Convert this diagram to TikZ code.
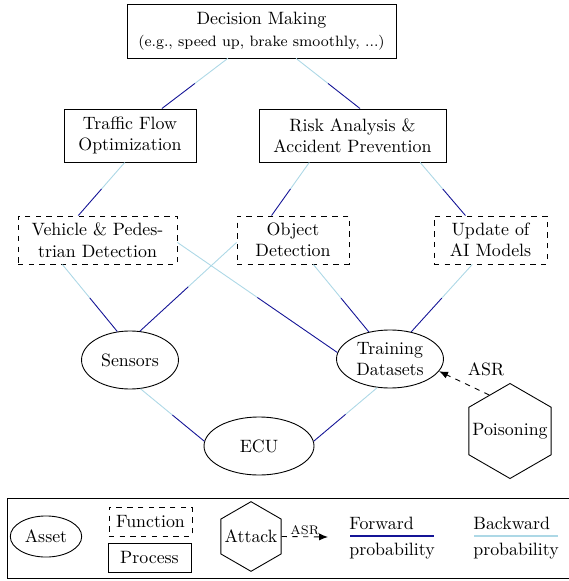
\documentclass[tikz,border=0pt]{standalone}
\usetikzlibrary{shapes.geometric,calc,arrows.meta}
\definecolor{fwdc}{RGB}{20,20,150}
\definecolor{bwdc}{RGB}{173,216,230}
\newcommand\halflink[2]{%
  \draw[bwd] (#1) -- ($(#1)!0.5!(#2)$);
  \draw[fwd] ($(#1)!0.5!(#2)$) -- (#2);}
\begin{document}
\begin{tikzpicture}[x=0.56pt,y=-0.56pt,
  proc/.style={draw,rectangle,align=center,inner sep=2pt,line width=0.5pt},
  func/.style={proc,dashed},
  asset/.style={draw,ellipse,align=center,inner sep=0pt,line width=0.5pt},
  attack/.style={draw,regular polygon,regular polygon sides=6,shape border rotate=30,inner sep=0pt,line width=0.5pt},
  fwd/.style={draw=fwdc,line width=0.5pt},
  bwd/.style={draw=bwdc,line width=0.5pt},
  atk/.style={dashed,-{Latex[length=5pt,width=4pt]},line width=0.5pt},
  lbl/.style={inner sep=0pt}]
\useasboundingbox (0,0) rectangle (568,581);
% nodes
\node[proc,minimum width=150.6pt,minimum height=30.2pt] (dec) at (261.5,31) {Decision Making\\{\fontsize{8.4pt}{10pt}\selectfont (e.g., speed up, brake smoothly, ...)}};
\node[proc,minimum width=73.9pt,minimum height=29.7pt] (tfo) at (130,135.5) {Traffic Flow\\Optimization};
\node[proc,minimum width=104.7pt,minimum height=29.7pt] (risk) at (352.5,135.5) {Risk Analysis \&\\Accident Prevention};
\node[func,minimum width=89pt,minimum height=26.9pt] (vpd) at (97.5,240) {Vehicle \& Pedes-\\trian Detection};
\node[func,minimum width=62.7pt,minimum height=26.9pt] (obj) at (293,240) {Object\\Detection};
\node[func,minimum width=63.3pt,minimum height=26.9pt] (upd) at (490.5,240) {Update of\\AI Models};
\node[asset,minimum width=54.3pt,minimum height=32.5pt] (sen) at (130,360) {Sensors};
\node[asset,minimum width=59.9pt,minimum height=32.5pt] (train) at (390,359) {Training\\Datasets};
\node[asset,minimum width=61.6pt,minimum height=32.5pt] (ecu) at (259,446) {ECU};
\node[attack,minimum size=53.2pt] (poi) at (510,431) {\makebox[0pt]{Poisoning}};
\node[lbl] (asr) at (486,369.5) {ASR};
% edge end points
\coordinate (a1) at ($(dec.south west)!0.375!(dec.south east)$);
\coordinate (b1) at ($(tfo.north west)!0.74!(tfo.north east)$);
\coordinate (a2) at ($(dec.south west)!0.628!(dec.south east)$);
\coordinate (b2) at ($(risk.north west)!0.54!(risk.north east)$);
\coordinate (a3) at ($(tfo.south west)!0.46!(tfo.south east)$);
\coordinate (b3) at ($(vpd.north west)!0.38!(vpd.north east)$);
\coordinate (a4) at ($(risk.south west)!0.27!(risk.south east)$);
\coordinate (b4) at ($(obj.north west)!0.31!(obj.north east)$);
\coordinate (a5) at ($(risk.south west)!0.86!(risk.south east)$);
\coordinate (b5) at ($(upd.north west)!0.28!(upd.north east)$);
\coordinate (a6) at ($(vpd.south west)!0.28!(vpd.south east)$);
\coordinate (b6) at (sen.114);
\coordinate (a7) at ($(vpd.north east)!0.55!(vpd.south east)$);
\coordinate (b7) at (train.173);
\coordinate (a8) at ($(obj.north west)!0.55!(obj.south west)$);
\coordinate (b8) at (sen.71);
\coordinate (a9) at ($(obj.south west)!0.68!(obj.south east)$);
\coordinate (b9) at (train.128);
\coordinate (a10) at ($(upd.south west)!0.34!(upd.south east)$);
\coordinate (b10) at (train.52);
\coordinate (a11) at (sen.-70);
\coordinate (b11) at (ecu.175);
\coordinate (a12) at (train.246);
\coordinate (b12) at (ecu.5);
\halflink{a1}{b1}
\halflink{a2}{b2}
\halflink{a3}{b3}
\halflink{a4}{b4}
\halflink{a5}{b5}
\halflink{a6}{b6}
\halflink{a7}{b7}
\halflink{a8}{b8}
\halflink{a9}{b9}
\halflink{a10}{b10}
\halflink{a11}{b11}
\halflink{a12}{b12}
\draw[atk] (poi.120) -- (train.-14);
% legend
\draw[line width=0.5pt] (7,498) rectangle (580,578.5);
\node[asset,minimum width=40pt,minimum height=23pt] (lasset) at (46,536.5) {Asset};
\node[func,minimum width=46.5pt,minimum height=16.2pt] (lfunc) at (150.5,521.5) {Function};
\node[proc,minimum width=46.5pt,minimum height=16.2pt] (lproc) at (149.5,557.5) {Process};
\node[attack,minimum size=39pt] (latk) at (251,536.5) {\makebox[0pt]{Attack}};
\coordinate (latkend) at (328,537);
\draw[atk] (latk.east) -- node[above,font=\scriptsize,inner sep=1pt] (lasr) {ASR} (latkend);
\node[lbl,anchor=base west] (lfw) at (349,529) {Forward};
\coordinate (lfwa) at (350,536);
\coordinate (lfwb) at (434,536);
\draw[fwd,line width=1.6pt] (lfwa) -- (lfwb);
\node[lbl,anchor=base west] (lfp) at (349,555) {probability};
\node[lbl,anchor=base west] (lbw) at (473,529) {Backward};
\coordinate (lbwa) at (474,536);
\coordinate (lbwb) at (558,536);
\draw[bwd,line width=1.6pt] (lbwa) -- (lbwb);
\node[lbl,anchor=base west] (lbp) at (473,555) {probability};
\end{tikzpicture}
\end{document}
